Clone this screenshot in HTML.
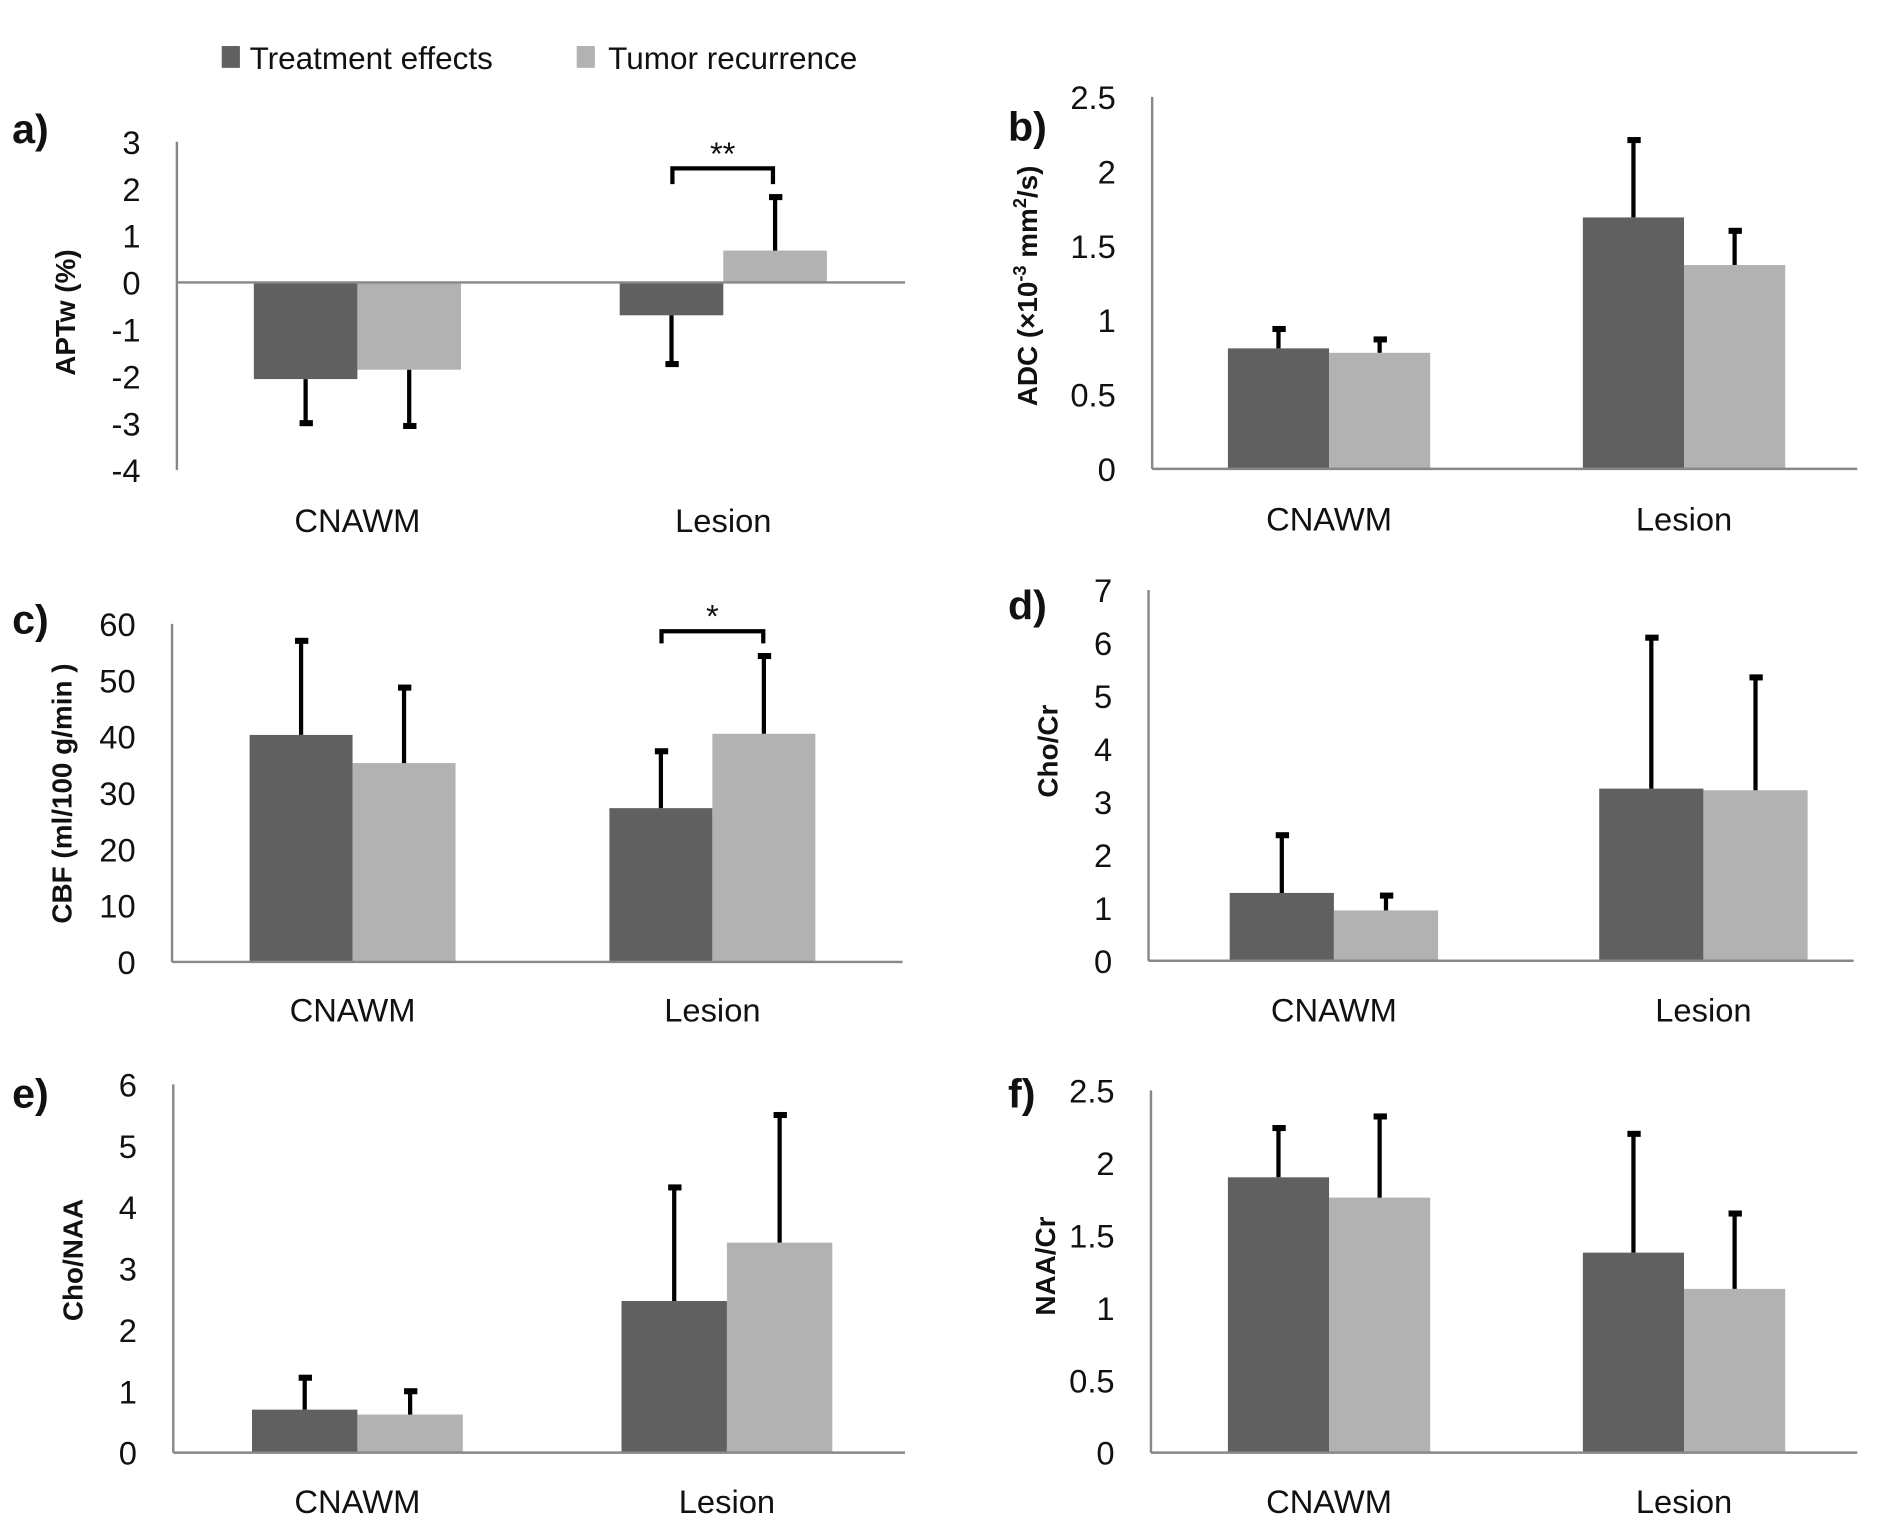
<!DOCTYPE html>
<html><head><meta charset="utf-8"><style>
html,body{margin:0;padding:0;background:#fff;}
svg{display:block;font-family:"Liberation Sans",sans-serif;}
</style></head><body>
<svg id="fig" width="1890" height="1535" viewBox="0 0 1560 1267" xmlns="http://www.w3.org/2000/svg">
<g>
<rect x="183" y="38" width="15" height="18" fill="#606060"/>
<text x="206" y="57" font-size="26" fill="#111">Treatment effects</text>
<rect x="476" y="38" width="15" height="18" fill="#b2b2b2"/>
<text x="502" y="57" font-size="26" fill="#111">Tumor recurrence</text>
</g>
</svg>
<script>
const categories = ["CNAWM", "Lesion"];
const aTreat = [-2.06, -0.7], aTreatErr = [-3.0, -1.74], aTumor = [-1.86, 0.68], aTumorErr = [-3.06, 1.82];
const aTicks = [3, 2, 1, 0, -1, -2, -3, -4];
const bTreat = [0.81, 1.69], bTreatErr = [0.94, 2.21], bTumor = [0.78, 1.37], bTumorErr = [0.87, 1.6];
const bTicks = [2.5, 2, 1.5, 1, 0.5, 0];
const cTreat = [40.3, 27.3], cTreatErr = [57, 37.4], cTumor = [35.3, 40.5], cTumorErr = [48.7, 54.3];
const cTicks = [60, 50, 40, 30, 20, 10, 0];
const dTreat = [1.28, 3.25], dTreatErr = [2.37, 6.1], dTumor = [0.95, 3.22], dTumorErr = [1.23, 5.35];
const dTicks = [7, 6, 5, 4, 3, 2, 1, 0];
const eTreat = [0.7, 2.47], eTreatErr = [1.22, 4.32], eTumor = [0.62, 3.42], eTumorErr = [1.0, 5.5];
const eTicks = [6, 5, 4, 3, 2, 1, 0];
const fTreat = [1.9, 1.38], fTreatErr = [2.24, 2.2], fTumor = [1.76, 1.13], fTumorErr = [2.32, 1.65];
const fTicks = [2.5, 2, 1.5, 1, 0.5, 0];

const NS = "http://www.w3.org/2000/svg";
const svg = document.getElementById("fig");
function mk(tag, attrs, parent, txt) {
  const e = document.createElementNS(NS, tag);
  for (const k in attrs) e.setAttribute(k, attrs[k]);
  if (txt !== undefined) e.textContent = txt;
  parent.appendChild(e);
  return e;
}
function panel(p) {
  const g = mk("g", {}, svg);
  
  
  const tmax = p.ticks[0], tmin = p.ticks[p.ticks.length - 1];
  const y = v => p.yTop + (tmax - v) * (p.yBot - p.yTop) / (tmax - tmin);
  const zero = y(0);
  const ax = mk("line", {x1: p.ax, x2: p.ax, y1: p.yTop, y2: p.yBot, stroke: "#888", "stroke-width": 2}, g);
  
  
  p.ticks.forEach(t => {
    const tl = mk("text", {x: p.ax - 30, y: y(t) + 10, "font-size": 27, "text-anchor": "end", fill: "#111"}, g, String(t));
    
    
  });
  const series = [[p.treat, p.treatErr, "#606060", "treatment"], [p.tumor, p.tumorErr, "#b2b2b2", "tumor"]];
  categories.forEach((c, i) => {
    series.forEach((s, j) => {
      const x0 = p.groupX[i] + (j - 1) * p.bw;
      const v = s[0][i], ev = s[1][i];
      const r = mk("rect", {x: x0, y: Math.min(y(v), zero), width: p.bw, height: Math.abs(y(v) - zero), fill: s[2]}, g);
      
      
      const cx = x0 + p.bw / 2;
      const el = mk("line", {x1: cx, x2: cx, y1: y(v), y2: y(ev), stroke: "#000", "stroke-width": 3.5}, g);
      
      
      const cap = mk("line", {x1: cx - 5, x2: cx + 6, y1: y(ev), y2: y(ev), stroke: "#000", "stroke-width": 5}, g);
      
      
    });
    const cl = mk("text", {x: p.groupX[i], y: p.catY, "font-size": 27, "text-anchor": "middle", fill: "#111"}, g, c);
    
    
  });
  const xl = mk("line", {x1: p.ax, x2: p.xEnd, y1: zero, y2: zero, stroke: "#888", "stroke-width": 2}, g);
  
  
  const lt = mk("text", {x: p.lx, y: p.ly, "font-size": 34, "font-weight": "bold", fill: "#111"}, g, p.id + ")");
  
  
  const yt = mk("text", {x: 0, y: 0, "font-size": 23, "font-weight": "bold", "text-anchor": "middle", fill: "#111",
    transform: "translate(" + p.tx + "," + p.ty + ") rotate(-90)"}, g);
  
  
  if (p.title === "ADC") {
    yt.appendChild(document.createTextNode("ADC (×10"));
    mk("tspan", {"font-size": 15, dy: -9}, yt, "-3");
    mk("tspan", {dy: 9}, yt, " mm");
    mk("tspan", {"font-size": 15, dy: -9}, yt, "2");
    mk("tspan", {dy: 9}, yt, "/s)");
  } else yt.textContent = p.title;
  if (p.sig) {
    const s = p.sig;
    const br = mk("path", {d: "M" + s.x1 + "," + s.y2 + " V" + s.y1 + " H" + s.x2 + " V" + s.y2, fill: "none", stroke: "#000", "stroke-width": 3.5}, g);
    
    
    const st = mk("text", {x: (s.x1 + s.x2) / 2, y: s.y1 - 3, "font-size": 27, "text-anchor": "middle", fill: "#111"}, g, s.t);
    
    
  }
}
panel({id: "a", ax: 146, yTop: 117, yBot: 388, xEnd: 747, ticks: aTicks, treat: aTreat, treatErr: aTreatErr, tumor: aTumor, tumorErr: aTumorErr,
  groupX: [295, 597], bw: 85.5, catY: 439, lx: 10, ly: 118, tx: 62, ty: 258, title: "APTw (%)",
  sig: {x1: 555, x2: 638, y1: 139, y2: 152, t: "**"}});
panel({id: "b", ax: 951, yTop: 80, yBot: 387, xEnd: 1533, ticks: bTicks, treat: bTreat, treatErr: bTreatErr, tumor: bTumor, tumorErr: bTumorErr,
  groupX: [1097, 1390], bw: 83.5, catY: 438, lx: 832, ly: 116, tx: 856, ty: 236, title: "ADC"});
panel({id: "c", ax: 142, yTop: 515, yBot: 794, xEnd: 745, ticks: cTicks, treat: cTreat, treatErr: cTreatErr, tumor: cTumor, tumorErr: cTumorErr,
  groupX: [291, 588], bw: 85, catY: 843, lx: 10, ly: 523, tx: 59, ty: 655, title: "CBF (ml/100 g/min )",
  sig: {x1: 546, x2: 630, y1: 521, y2: 531, t: "*"}});
panel({id: "d", ax: 948, yTop: 487, yBot: 793, xEnd: 1530, ticks: dTicks, treat: dTreat, treatErr: dTreatErr, tumor: dTumor, tumorErr: dTumorErr,
  groupX: [1101, 1406], bw: 86, catY: 843, lx: 832, ly: 511, tx: 873, ty: 620, title: "Cho/Cr"});
panel({id: "e", ax: 143, yTop: 895, yBot: 1199, xEnd: 747, ticks: eTicks, treat: eTreat, treatErr: eTreatErr, tumor: eTumor, tumorErr: eTumorErr,
  groupX: [295, 600], bw: 87, catY: 1249, lx: 10, ly: 914, tx: 68, ty: 1040, title: "Cho/NAA"});
panel({id: "f", ax: 950, yTop: 900, yBot: 1199, xEnd: 1533, ticks: fTicks, treat: fTreat, treatErr: fTreatErr, tumor: fTumor, tumorErr: fTumorErr,
  groupX: [1097, 1390], bw: 83.5, catY: 1249, lx: 832, ly: 914, tx: 871, ty: 1045, title: "NAA/Cr"});
</script>
</body></html>
